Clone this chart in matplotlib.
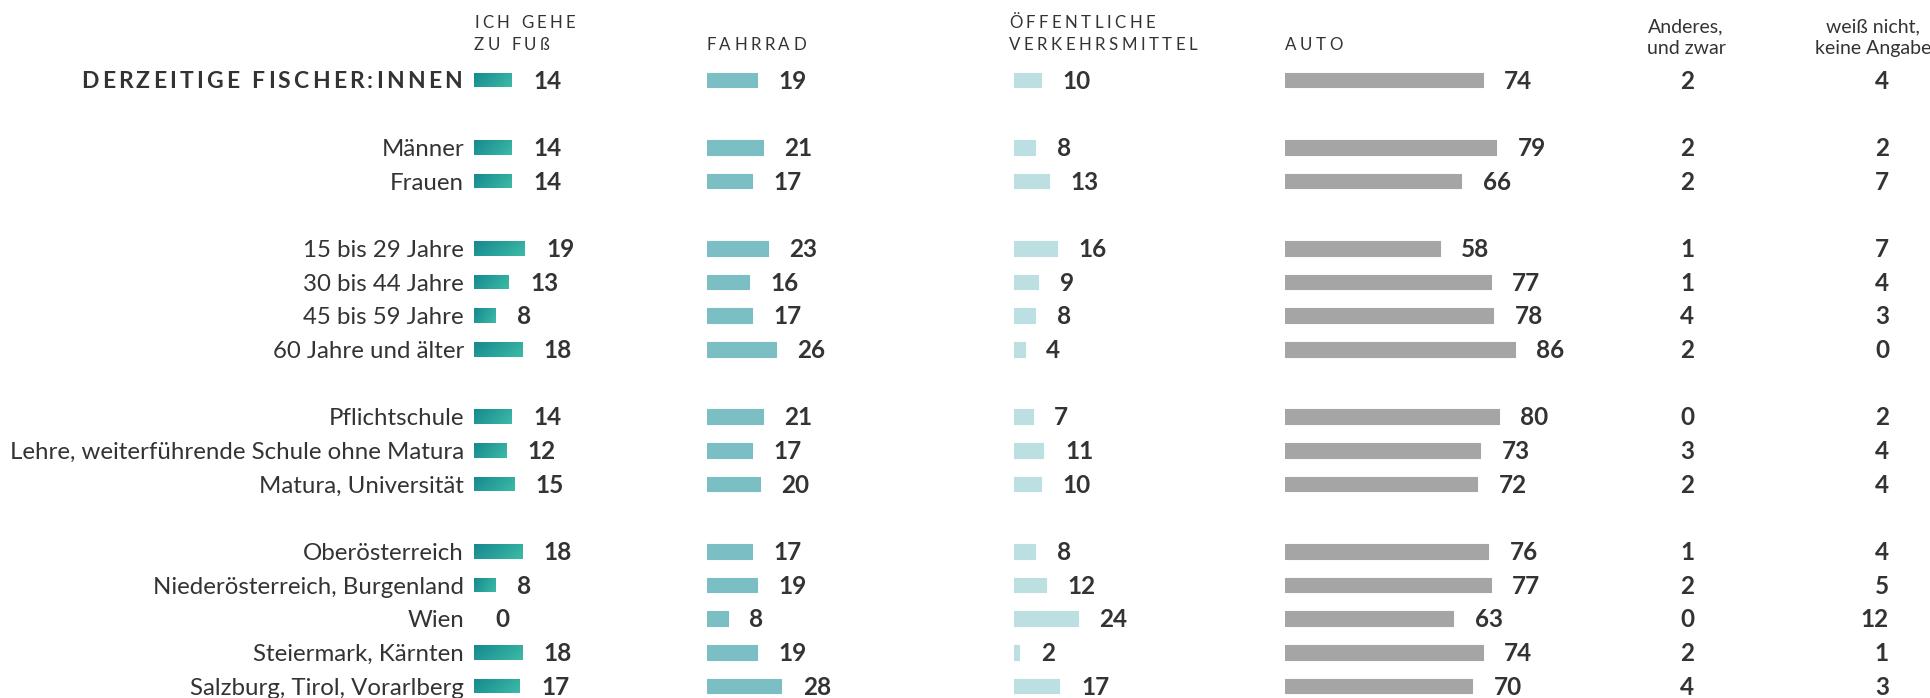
import numpy as np
import matplotlib
matplotlib.use("Agg")
import matplotlib.pyplot as plt
from matplotlib import font_manager
from matplotlib.colors import LinearSegmentedColormap
from matplotlib.ft2font import FT2Font

# ---------------- data ----------------
row_labels = ["DERZEITIGE FISCHER:INNEN", "",
              "Männer", "Frauen", "",
              "15 bis 29 Jahre", "30 bis 44 Jahre", "45 bis 59 Jahre", "60 Jahre und älter", "",
              "Pflichtschule", "Lehre, weiterführende Schule ohne Matura", "Matura, Universität", "",
              "Oberösterreich", "Niederösterreich, Burgenland", "Wien", "Steiermark, Kärnten",
              "Salzburg, Tirol, Vorarlberg"]
fuss = [14, None, 14, 14, None, 19, 13, 8, 18, None, 14, 12, 15, None, 18, 8, 0, 18, 17]
fahrrad = [19, None, 21, 17, None, 23, 16, 17, 26, None, 21, 17, 20, None, 17, 19, 8, 19, 28]
oev = [10, None, 8, 13, None, 16, 9, 8, 4, None, 7, 11, 10, None, 8, 12, 24, 2, 17]
auto = [74, None, 79, 66, None, 58, 77, 78, 86, None, 80, 73, 72, None, 76, 77, 63, 74, 70]
anderes = [2, None, 2, 2, None, 1, 1, 4, 2, None, 0, 3, 2, None, 1, 2, 0, 2, 4]
weiss = [4, None, 2, 7, None, 7, 4, 3, 0, None, 2, 4, 4, None, 4, 5, 12, 1, 3]

bar_headers = ["ICH GEHE\nZU FUß", "FAHRRAD", "ÖFFENTLICHE\nVERKEHRSMITTEL", "AUTO"]
text_headers = ["Anderes,\nund zwar", "weiß nicht,\nkeine Angabe"]

# ---------------- style ----------------
W, H, DPI = 1930, 698, 100
TXT = "#333333"
FONT = "Lato"
col_colors = [None, "#7bbfc5", "#bcdfe2", "#a5a5a5"]
grad_cmap = LinearSegmentedColormap.from_list("g", ["#16898f", "#3cbaa6"])

LABEL_FS = 17.3
VALUE_FS = 17.5
CAP = 0.36  # half cap-height in em, for vertical centering on baseline

fig = plt.figure(figsize=(W / DPI, H / DPI), dpi=DPI)
fig.patch.set_facecolor("white")

PX_PER_UNIT = 2.67
ROW0_Y, ROW_STEP = 80.0, 33.67
y_top = -ROW0_Y / ROW_STEP
y_bot = (H - ROW0_Y) / ROW_STEP
BAR_H = 0.43

col_x0 = [474, 706.5, 1014, 1285]
col_w = [200, 260, 240, 330]


def fx(px):
    return px / W


def fy(py):
    return 1 - py / H


def em_px(size):
    return size * DPI / 72.0


def tracked_text(s, x_px, y_px, size, weight="normal", spacing=0.18, ha="left",
                 target_width=None):
    prop = font_manager.FontProperties(family=FONT, weight=weight, size=size)
    path = font_manager.findfont(prop)
    f = FT2Font(path)
    f.set_size(size, DPI)
    adv = []
    for c in s:
        g = f.load_char(ord(c))
        try:
            a = g.linearHoriAdvance / 65536.0
        except Exception:
            a = g.horiAdvance / 64.0
        adv.append(a)
    if target_width is not None:
        track = (target_width - sum(adv)) / (len(s) - 1)
    else:
        track = spacing * em_px(size)
    total = sum(adv) + track * (len(s) - 1)
    x = x_px - total if ha == "right" else x_px
    yb = y_px + CAP * em_px(size)
    for c, a in zip(s, adv):
        fig.text(fx(x), fy(yb), c, fontproperties=prop, color=TXT,
                 ha="left", va="baseline")
        x += a + track


# ---------------- bar columns ----------------
series = [fuss, fahrrad, oev, auto]
for ci, (vals, x0, w) in enumerate(zip(series, col_x0, col_w)):
    ax = fig.add_axes([fx(x0), 0, fx(w), 1])
    ax.set_xlim(0, w / PX_PER_UNIT)
    ax.set_ylim(y_bot, y_top)
    ax.axis("off")
    idx = [i for i, v in enumerate(vals) if v is not None]
    v = np.array([vals[i] for i in idx], dtype=float)
    if ci == 0:
        bars = ax.barh(idx, v, height=BAR_H, color="#2aa39e", edgecolor="none")
        grad = (np.linspace(0, 1, 64)[None, :] * 0.75
                + np.linspace(0, 1, 8)[:, None] * 0.25)
        for b in bars:
            if b.get_width() <= 0:
                continue
            bx, by = b.get_x(), b.get_y()
            im = ax.imshow(grad, cmap=grad_cmap, aspect="auto",
                           extent=(bx, bx + b.get_width(), by + b.get_height(), by),
                           interpolation="bicubic", zorder=2)
            im.set_clip_path(b)
        ax.set_xlim(0, w / PX_PER_UNIT)
        ax.set_ylim(y_bot, y_top)
    else:
        ax.barh(idx, v, height=BAR_H, color=col_colors[ci],
                edgecolor=col_colors[ci], linewidth=0.8, joinstyle="round")
    for i, val in zip(idx, v):
        ax.annotate(f"{int(val)}", xy=(val, i), xytext=(15.5, -CAP * VALUE_FS),
                    textcoords="offset points", ha="left", va="baseline",
                    fontsize=VALUE_FS, fontweight="bold", color=TXT, family=FONT)

# ---------------- headers ----------------
header_x = [474, 706.5, 1009, 1285]
for hdr, hx in zip(bar_headers, header_x):
    lines = hdr.split("\n")
    ys = [22, 44] if len(lines) == 2 else [44]
    for ln, yy in zip(lines, ys):
        tracked_text(ln, hx, yy, 12.2, spacing=0.2)

# ---------------- text columns ----------------
HDR_FS = 14.0
for hdr, cx in zip(text_headers, [1686, 1873]):
    l1, l2 = hdr.split("\n")
    for ln, yy in zip([l1, l2], [25, 47]):
        fig.text(fx(cx), fy(yy + CAP * em_px(HDR_FS)), ln, ha="center", va="baseline",
                 fontsize=HDR_FS, color=TXT, family=FONT)

for i, (a, wv) in enumerate(zip(anderes, weiss)):
    if a is None:
        continue
    yy = ROW0_Y + i * ROW_STEP + CAP * em_px(VALUE_FS)
    fig.text(fx(1687), fy(yy), f"{a}", ha="center", va="baseline",
             fontsize=VALUE_FS, fontweight="bold", color=TXT, family=FONT)
    fig.text(fx(1889), fy(yy), f"{wv}", ha="right", va="baseline",
             fontsize=VALUE_FS, fontweight="bold", color=TXT, family=FONT)

# ---------------- row labels ----------------
for i, lab in enumerate(row_labels):
    if not lab:
        continue
    yy = ROW0_Y + i * ROW_STEP
    if i == 0:
        tracked_text(lab, 462, yy, 16.5, weight="bold", ha="right", target_width=381)
    else:
        fig.text(fx(464), fy(yy + CAP * em_px(LABEL_FS)), lab, ha="right", va="baseline",
                 fontsize=LABEL_FS, color=TXT, family=FONT)

fig.savefig("out.png", dpi=DPI, facecolor="white")
